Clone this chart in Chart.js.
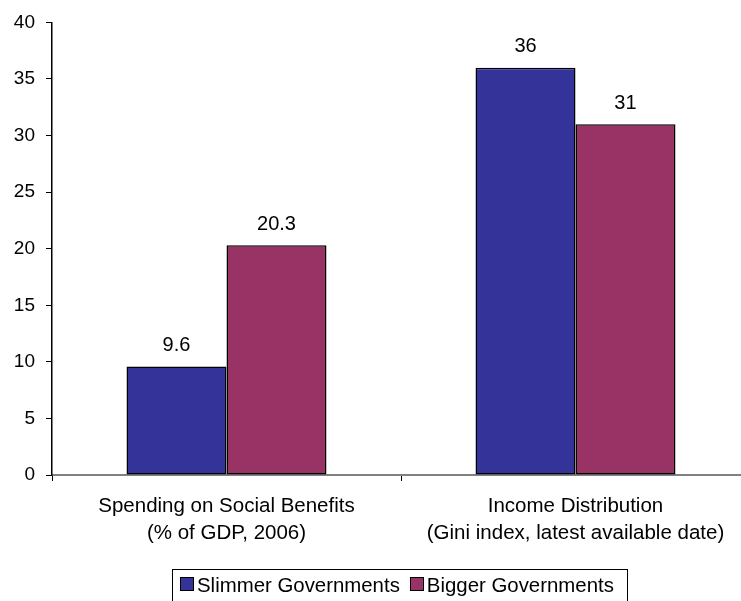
<!DOCTYPE html>
<html>
<head>
<meta charset="utf-8">
<script src="https://cdn.jsdelivr.net/npm/chart.js@4/dist/chart.umd.min.js"></script>
<style>
  body { margin: 0; background: #fff; font-family: "Liberation Sans", Arial, sans-serif; }
  #wrap { position: relative; width: 741px; height: 601px; overflow: hidden; }
  #legend {
    position: absolute; left: 172px; top: 569px; width: 456px; height: 40px;
    border: 1px solid #000; box-sizing: border-box; display: flex; align-items: flex-start;
    padding: 3px 0 0 7px; font-size: 20.4px; line-height: 24px; color: #000; white-space: nowrap;
  }
  #legend .sw { display: inline-block; width: 14px; height: 14px; border: 1px solid #000; box-sizing: border-box; margin: 4px 3px 0 0; }
  #legend .it { display: flex; align-items: flex-start; margin-right: 10px; }
</style>
</head>
<body>
<div id="wrap">
  <canvas id="govChart" width="760" height="601"></canvas>
  <div id="legend"></div>
</div>
<script>
  const categories = [
    ['Spending on Social Benefits', '(% of GDP, 2006)'],
    ['Income Distribution', '(Gini index, latest available date)']
  ];
  const slimmer = [9.6, 36];
  const bigger = [20.3, 31];
  const seriesNames = ['Slimmer Governments', 'Bigger Governments'];
  const colors = ['#333399', '#993366'];

  // value labels above the bars
  const valueLabels = {
    id: 'valueLabels',
    afterDatasetsDraw(chart) {
      const ctx = chart.ctx;
      ctx.save();
      ctx.font = '20px "Liberation Sans", Arial, sans-serif';
      ctx.fillStyle = '#000';
      ctx.textAlign = 'center';
      ctx.textBaseline = 'bottom';
      chart.data.datasets.forEach((ds, i) => {
        chart.getDatasetMeta(i).data.forEach((bar, j) => {
          ctx.fillText(String(ds.data[j]), bar.x, bar.y - 11);
        });
      });
      ctx.restore();
    }
  };

  new Chart(document.getElementById('govChart'), {
    type: 'bar',
    data: {
      labels: categories,
      datasets: [
        { label: seriesNames[0], data: slimmer, backgroundColor: colors[0], borderColor: '#000', borderWidth: 1.5, borderSkipped: false },
        { label: seriesNames[1], data: bigger, backgroundColor: colors[1], borderColor: '#000', borderWidth: 1.5, borderSkipped: false }
      ]
    },
    options: {
      responsive: false,
      animation: false,
      categoryPercentage: 0.573,
      barPercentage: 1,
      layout: { padding: { top: 22, left: 0, right: 10, bottom: 0 } },
      plugins: { legend: { display: false }, tooltip: { enabled: false } },
      scales: {
        x: {
          afterFit: s => { s.height = 126; },
          border: { color: '#808080', width: 2 },
          grid: { drawOnChartArea: false, tickLength: 6, color: '#000' },
          ticks: { color: '#000', padding: 12, maxRotation: 0, font: { size: 20.5, family: '"Liberation Sans", Arial, sans-serif', lineHeight: 1.3 } }
        },
        y: {
          min: 0, max: 40,
          afterFit: s => { s.width = 52; },
          border: { color: '#000', width: 1.5 },
          grid: { drawOnChartArea: false, tickLength: 6, color: '#000' },
          ticks: { stepSize: 5, color: '#000', padding: 11, font: { size: 19, family: '"Liberation Sans", Arial, sans-serif' } }
        }
      }
    },
    plugins: [valueLabels]
  });

  const legend = document.getElementById('legend');
  seriesNames.forEach((name, i) => {
    const it = document.createElement('span');
    it.className = 'it';
    it.innerHTML = '<span class="sw" style="background:' + colors[i] + '"></span>' + name;
    legend.appendChild(it);
  });
</script>
</body>
</html>
